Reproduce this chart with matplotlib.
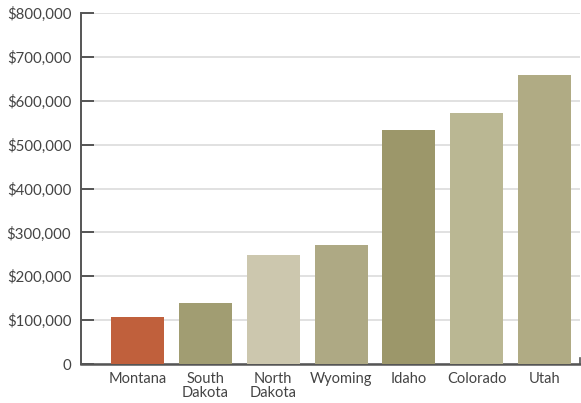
import matplotlib
matplotlib.use("Agg")
import matplotlib.pyplot as plt
from matplotlib.ticker import FuncFormatter

states = ["Montana", "South\nDakota", "North\nDakota", "Wyoming", "Idaho", "Colorado", "Utah"]
values = [107000, 139000, 249000, 272000, 534000, 571000, 658000]
colors = ["#C0603C", "#A19D72", "#CCC7AE", "#AEA984", "#9C976A", "#BAB793", "#B0AB84"]
yticks = [0, 100000, 200000, 300000, 400000, 500000, 600000, 700000, 800000]

plt.rcParams['font.family'] = ['Lato', 'DejaVu Sans']

fig = plt.figure(figsize=(5.81, 4.03), dpi=100)
ax = fig.add_axes([81/581, (403-364)/403, (580-81)/581, (364-13)/403])

x = list(range(len(states)))
ax.bar(x, values, width=0.78, color=colors, zorder=3)

ax.set_ylim(0, 800000)
ax.set_xlim(-0.83, 6.52)
ax.set_yticks(yticks)
ax.yaxis.set_major_formatter(FuncFormatter(lambda v, p: "0" if v == 0 else f"${v:,.0f}"))
ax.grid(axis='y', color='#dcdcdc', linewidth=1.2, zorder=0)
ax.set_axisbelow(True)

ax.set_xticks(x)
ax.set_xticklabels(states, linespacing=1.0)
ax.tick_params(axis='x', length=0, pad=6, labelsize=10.5, labelcolor='#444444')
ax.tick_params(axis='y', direction='in', length=9.5, width=1.4, color='#555555',
               pad=7, labelsize=10.8, labelcolor='#444444')

ax.spines['top'].set_visible(False)
ax.spines['left'].set_color('#555555')
ax.spines['left'].set_linewidth(1.4)
ax.spines['bottom'].set_color('#555555')
ax.spines['bottom'].set_linewidth(1.8)
ax.spines['right'].set_color('#555555')
ax.spines['right'].set_linewidth(1.2)
ax.spines['right'].set_bounds(0, 14000)

fig.savefig("out.png", dpi=100)
